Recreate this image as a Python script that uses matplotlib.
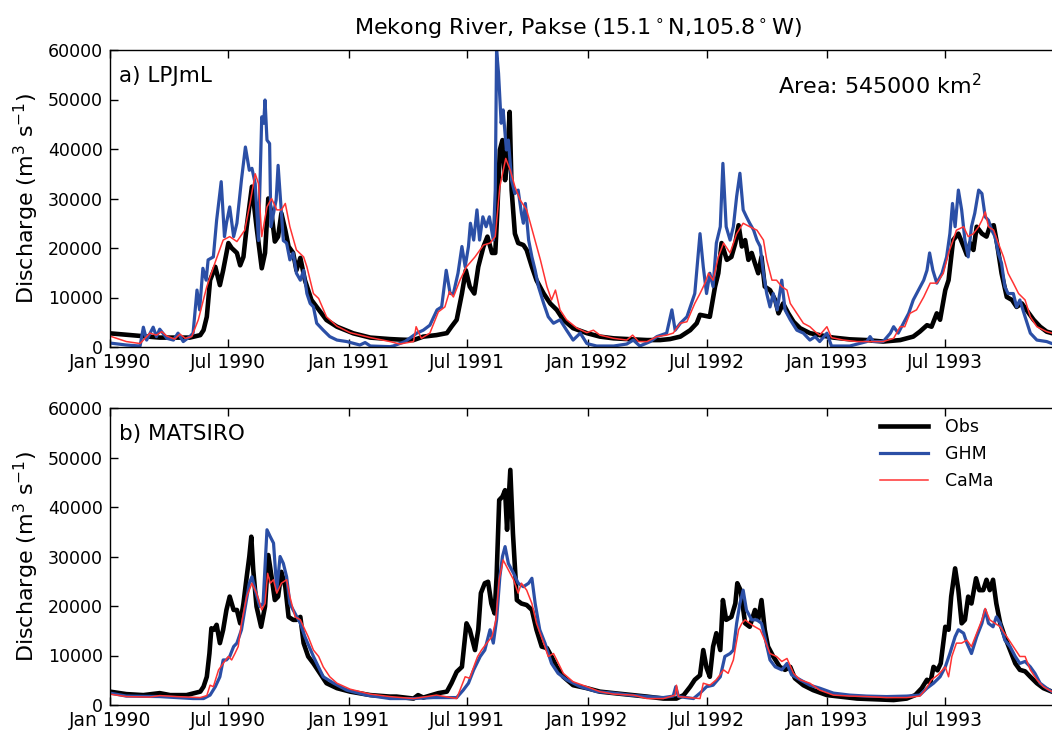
import numpy as np
import matplotlib
matplotlib.use("Agg")
import matplotlib.pyplot as plt
import matplotlib.dates as mdates

# ---------------- data (days since 1990-01-01, discharge m3/s) ----------------
a_obs_day = [0, 76, 122, 138, 143, 148, 153, 161, 168, 173, 181, 186, 194, 199, 204, 209, 217, 224, 232, 237,
             242, 247, 252, 257, 262, 268, 273, 280, 285, 291, 298, 308, 316, 331, 347, 372, 398, 428, 443, 464,
             479, 499, 515, 522, 530, 538, 544, 550, 557, 563, 571, 577, 584, 589, 592, 596, 600, 604, 607, 611,
             614, 619, 624, 632, 637, 645, 652, 663, 673, 683, 693, 708, 729, 749, 770, 800, 821, 841, 856, 872,
             887, 897, 902, 917, 925, 930, 935, 943, 950, 956, 961, 966, 971, 976, 981, 986, 991, 996, 1001, 1009,
             1017, 1022, 1029, 1037, 1045, 1055, 1070, 1085, 1106, 1131, 1157, 1182, 1208, 1228, 1238, 1249, 1256,
             1264, 1269, 1277, 1282, 1289, 1297, 1305, 1310, 1315, 1320, 1325, 1333, 1340, 1345, 1351, 1356, 1363,
             1371, 1379, 1386, 1394, 1401, 1412, 1422, 1432, 1440, 1460]
a_obs_val = [2760, 1900, 1900, 2400, 3400, 6100, 13500, 16200, 12500, 15500, 21000, 20000, 19000, 16500, 18200,
             24300, 32400, 24300, 15900, 19000, 30000, 27000, 21300, 22300, 27000, 23600, 20300, 19000, 15500,
             18000, 13500, 9500, 8100, 5450, 4100, 2760, 1900, 1600, 1500, 1400, 2100, 2400, 2800, 4100, 5500,
             10800, 15500, 12200, 10800, 16200, 20300, 22300, 19000, 19000, 27000, 39800, 41800, 33700, 37100,
             47500, 31700, 22900, 21000, 20600, 19600, 16200, 13500, 10800, 8800, 7500, 5500, 3800, 2800, 2100,
             1750, 1550, 1400, 1400, 1600, 2100, 3400, 4800, 6500, 6100, 12200, 14900, 21000, 17600, 18200, 21000,
             24600, 20300, 21600, 17600, 19000, 16900, 14900, 18200, 12200, 11500, 9500, 6800, 8800, 6800, 5100,
             3800, 2800, 2400, 1900, 1550, 1400, 1100, 1400, 2100, 3100, 4400, 4100, 6800, 5500, 11500, 13500,
             21600, 22900, 20300, 18600, 21000, 19600, 24300, 22900, 22300, 24300, 24600, 21000, 14900, 10100,
             9500, 8100, 8800, 7500, 5500, 4100, 3100, 2800, 2600]

a_ghm_day = [0, 25, 46, 51, 56, 66, 71, 76, 87, 97, 104, 112, 122, 127, 133, 137, 142, 147, 150, 158, 163, 170,
             175, 178, 183, 189, 194, 201, 207, 213, 217, 222, 227, 232, 235, 237, 240, 244, 246, 250, 254, 257,
             261, 265, 270, 275, 280, 285, 291, 296, 301, 306, 311, 316, 326, 336, 347, 362, 382, 390, 398, 428,
             433, 451, 469, 479, 489, 500, 507, 514, 520, 525, 532, 538, 543, 548, 551, 556, 561, 565, 570, 575,
             580, 586, 589, 591, 594, 598, 601, 606, 609, 614, 619, 624, 629, 632, 635, 640, 645, 650, 655, 663,
             670, 678, 688, 698, 708, 719, 729, 744, 770, 790, 800, 810, 826, 836, 851, 859, 864, 872, 882, 894,
             902, 907, 912, 917, 922, 927, 933, 937, 942, 948, 953, 958, 963, 968, 973, 978, 984, 989, 994, 999,
             1004, 1009, 1014, 1020, 1027, 1032, 1040, 1050, 1060, 1070, 1078, 1085, 1096, 1103, 1131, 1157, 1162,
             1167, 1182, 1193, 1198, 1205, 1213, 1221, 1228, 1236, 1244, 1249, 1253, 1258, 1264, 1272, 1279, 1284,
             1288, 1292, 1297, 1302, 1307, 1312, 1317, 1322, 1328, 1333, 1338, 1343, 1348, 1353, 1358, 1363, 1368,
             1373, 1381, 1386, 1391, 1399, 1407, 1417, 1432, 1440, 1460]
a_ghm_val = [800, 400, 200, 4000, 1400, 4000, 2100, 3600, 1750, 1400, 2800, 1100, 2100, 2800, 11500, 7500, 15900,
             13500, 17600, 18200, 25600, 33400, 22300, 25000, 28300, 22300, 25000, 33800, 40400, 35700, 36100,
             33000, 21500, 46500, 45200, 49900, 41800, 41100, 24300, 27000, 29700, 36700, 29000, 21500, 21000,
             17600, 19000, 14900, 13500, 15500, 10800, 8800, 8100, 4800, 3400, 2100, 1400, 1100, 400, 900, 200, 70,
             200, 1100, 2800, 3400, 4400, 7500, 8100, 15500, 10800, 10800, 14900, 20300, 16200, 20300, 25000,
             21600, 27700, 21600, 26300, 24300, 26300, 21600, 31700, 60000, 55300, 45200, 47900, 39800, 41800,
             33700, 31000, 31700, 27000, 25000, 29000, 21600, 18200, 15500, 12200, 8800, 6100, 4800, 5500, 3400,
             1400, 2800, 700, 200, 200, 600, 1400, 200, 1100, 2100, 2800, 7500, 3400, 4800, 6100, 10800, 22900,
             16200, 10800, 14900, 12200, 21000, 24300, 37100, 24300, 21600, 24300, 30400, 35100, 27700, 26300,
             25000, 23600, 21600, 20300, 14900, 10800, 8100, 10800, 7500, 13500, 7500, 5500, 3400, 2800, 1400,
             2100, 1100, 2800, 200, 200, 1100, 2100, 1100, 1100, 2800, 4100, 2800, 4800, 6800, 9500, 11500, 13500,
             15500, 19000, 15500, 12900, 14900, 18200, 22900, 29000, 24300, 31700, 27700, 21600, 18200, 24300,
             27000, 31700, 31000, 26300, 25600, 23600, 22300, 19000, 16900, 12200, 10800, 10800, 8100, 9500, 6100,
             2800, 1400, 1100, 700, 600]

a_cama_day = [0, 25, 46, 61, 71, 79, 87, 99, 107, 115, 125, 135, 148, 161, 173, 183, 194, 206, 214, 222, 227,
              232, 240, 247, 255, 262, 268, 275, 285, 296, 301, 311, 319, 331, 347, 367, 398, 428, 443, 464, 468,
              476, 489, 502, 512, 519, 525, 535, 545, 558, 571, 581, 589, 596, 605, 612, 619, 627, 637, 647, 658,
              668, 675, 681, 688, 698, 714, 729, 739, 749, 770, 790, 799, 808, 821, 836, 851, 861, 872, 882, 894,
              902, 910, 915, 922, 930, 938, 948, 958, 968, 978, 989, 999, 1004, 1012, 1019, 1027, 1035, 1040, 1050,
              1060, 1070, 1078, 1085, 1096, 1103, 1121, 1142, 1182, 1198, 1208, 1215, 1223, 1233, 1244, 1254, 1264,
              1274, 1282, 1289, 1294, 1305, 1312, 1320, 1328, 1333, 1338, 1343, 1351, 1358, 1366, 1373, 1381, 1389,
              1399, 1407, 1417, 1432, 1440, 1460]
a_cama_val = [2200, 1100, 700, 2800, 2400, 3100, 2200, 1600, 2600, 1750, 2100, 5500, 12200, 17200, 21600, 22300,
              21300, 23600, 29000, 35000, 33000, 22300, 28300, 30000, 27700, 27700, 29000, 24300, 19600, 18200,
              16200, 10800, 9800, 6100, 4200, 2900, 1900, 1100, 600, 1100, 4100, 1750, 2800, 7100, 8100, 11200,
              10100, 13500, 16200, 18200, 20600, 21000, 22300, 32400, 38100, 35700, 32400, 29700, 27700, 22900,
              17600, 12200, 9500, 11500, 7500, 5500, 3800, 2900, 3400, 2400, 1750, 1400, 2400, 1100, 1100, 2100,
              2400, 2800, 4800, 5100, 8800, 10800, 13000, 14900, 13500, 18200, 21000, 19000, 22900, 25000, 24300,
              23600, 21600, 17600, 13500, 13500, 12200, 11500, 8800, 6800, 4800, 4100, 3100, 2400, 4100, 1900, 1400,
              1100, 1100, 1750, 4100, 4100, 6800, 7500, 10100, 12900, 12900, 14900, 19000, 21600, 23600, 24300,
              22300, 22900, 24300, 25600, 27300, 24300, 23600, 21000, 18200, 14900, 12900, 10800, 9500, 6100, 4100,
              3100, 2800, 2500]

b_obs_day = [0, 25, 51, 76, 92, 117, 138, 143, 148, 152, 155, 159, 163, 168, 173, 178, 183, 189, 194, 199, 204,
             209, 213, 216, 219, 224, 231, 237, 242, 247, 252, 257, 262, 268, 273, 280, 285, 291, 296, 303, 311,
             321, 331, 347, 367, 398, 428, 438, 464, 471, 479, 502, 515, 522, 530, 538, 545, 550, 558, 563, 567,
             573, 578, 583, 588, 591, 595, 600, 604, 607, 612, 616, 622, 629, 637, 645, 652, 660, 668, 675, 683,
             693, 708, 729, 749, 770, 800, 821, 846, 866, 877, 887, 894, 902, 907, 912, 917, 922, 927, 933, 937,
             942, 950, 956, 959, 964, 971, 978, 986, 991, 996, 1001, 1006, 1014, 1024, 1032, 1040, 1047, 1060, 1075,
             1096, 1116, 1142, 1172, 1198, 1218, 1231, 1241, 1249, 1254, 1259, 1265, 1270, 1277, 1282, 1286, 1292,
             1297, 1302, 1307, 1312, 1317, 1324, 1329, 1335, 1340, 1345, 1350, 1355, 1361, 1368, 1376, 1384, 1391,
             1399, 1407, 1417, 1427, 1440, 1460]
b_obs_val = [2700, 2200, 2000, 2400, 2000, 2000, 2700, 3700, 5700, 10400, 15500, 15200, 16200, 12500, 15200, 19200,
             21900, 19200, 19200, 16500, 20500, 25900, 30000, 34000, 27300, 19900, 15800, 19900, 30300, 25900,
             21200, 21900, 26900, 23900, 17800, 17200, 17200, 17800, 12500, 9800, 8400, 6400, 4400, 3400, 2700,
             2000, 1700, 1700, 1300, 2000, 1500, 2400, 2700, 4400, 6700, 7700, 16500, 15200, 11100, 15200, 22600,
             24600, 24900, 20500, 18500, 25900, 41400, 42100, 43400, 35400, 47500, 34700, 21200, 20500, 20200,
             19200, 15200, 11800, 11500, 9800, 7700, 5700, 4000, 3400, 2700, 2400, 2000, 1700, 1300, 1300, 2000,
             3700, 5100, 6000, 11100, 7500, 5700, 11800, 14500, 11100, 21200, 17200, 17800, 20500, 24600, 23200,
             16500, 15800, 19200, 17200, 21200, 15200, 11800, 9800, 7700, 7100, 7700, 5400, 4000, 3000, 2000, 1700,
             1300, 1150, 1000, 1300, 2000, 3400, 5100, 4400, 7700, 7000, 8400, 15800, 15200, 21900, 27600, 23200,
             16500, 17200, 21900, 20500, 25600, 23200, 23200, 25300, 23200, 25300, 20500, 16500, 13800, 11100,
             8400, 7100, 6800, 5700, 4400, 3400, 2700, 2400]

b_ghm_day = [0, 25, 76, 127, 143, 153, 161, 168, 173, 178, 183, 189, 194, 201, 206, 213, 217, 222, 229, 234, 240,
             245, 250, 255, 260, 265, 270, 275, 280, 291, 298, 311, 326, 342, 362, 392, 428, 464, 494, 530, 540,
             548, 556, 566, 573, 581, 586, 591, 596, 600, 604, 609, 617, 624, 632, 640, 645, 650, 657, 665, 675,
             685, 698, 719, 744, 770, 795, 821, 846, 861, 865, 869, 892, 902, 912, 922, 933, 940, 948, 953, 958,
             963, 968, 973, 981, 989, 996, 1001, 1009, 1017, 1027, 1035, 1042, 1055, 1070, 1085, 1106, 1131, 1157,
             1187, 1218, 1238, 1249, 1259, 1269, 1277, 1284, 1292, 1297, 1305, 1310, 1317, 1325, 1333, 1338, 1343,
             1350, 1355, 1361, 1368, 1376, 1384, 1391, 1399, 1407, 1414, 1422, 1432, 1440, 1460]
b_ghm_val = [2400, 1800, 1700, 1300, 1300, 2000, 3700, 5700, 9100, 9100, 9800, 11800, 12500, 15200, 19200, 24600,
             25900, 23200, 19900, 20500, 35400, 34000, 32700, 23200, 30000, 28600, 25900, 20500, 19200, 16500,
             13800, 9800, 5700, 4400, 3000, 2000, 1300, 1300, 1500, 1500, 3000, 4400, 7100, 9800, 11100, 15200,
             12500, 17200, 25900, 30000, 32000, 28600, 26600, 24600, 23900, 24600, 25600, 20500, 15200, 12500,
             8400, 6400, 5100, 3700, 2700, 2400, 2000, 1700, 1500, 1800, 3700, 1700, 1300, 2400, 3700, 4000, 5700,
             9800, 10400, 11100, 16500, 20500, 23200, 19200, 17200, 17200, 16500, 13800, 9100, 7700, 7100, 8400,
             6100, 5100, 4000, 3400, 2400, 2000, 1800, 1700, 1800, 2000, 3400, 4400, 5700, 7700, 10400, 13800,
             15200, 14500, 12500, 10400, 13800, 16500, 19200, 16500, 15800, 17800, 16500, 13100, 11800, 9800, 8400,
             8800, 7700, 6400, 4400, 3400, 2700, 2500]

b_cama_day = [0, 25, 61, 76, 102, 138, 148, 153, 158, 166, 173, 181, 186, 191, 196, 201, 209, 217, 224, 232, 237,
              241, 245, 250, 255, 262, 270, 275, 283, 291, 296, 303, 311, 319, 326, 336, 347, 367, 398, 428, 464,
              499, 530, 535, 543, 550, 558, 562, 568, 576, 584, 590, 595, 601, 609, 617, 624, 629, 637, 645, 652,
              663, 670, 678, 683, 693, 708, 729, 749, 770, 800, 821, 846, 864, 866, 869, 902, 907, 917, 927, 938,
              945, 953, 961, 966, 971, 978, 986, 994, 1001, 1009, 1019, 1027, 1035, 1045, 1055, 1070, 1085, 1106,
              1131, 1157, 1187, 1218, 1238, 1246, 1256, 1266, 1277, 1282, 1287, 1294, 1302, 1310, 1317, 1325, 1333,
              1338, 1345, 1353, 1361, 1371, 1381, 1391, 1399, 1407, 1417, 1427, 1440, 1460]
b_cama_val = [2200, 1700, 1600, 1900, 1700, 1500, 1900, 4000, 3700, 7100, 8400, 9800, 9100, 10400, 11800, 16500,
              21900, 24600, 22600, 19200, 20500, 26600, 24600, 25300, 22600, 24600, 25300, 21900, 17800, 17200,
              15800, 13800, 11100, 9800, 7700, 5700, 4400, 3200, 2200, 1700, 1300, 2000, 1300, 3000, 5700, 5400,
              8400, 9800, 11100, 12500, 13800, 17200, 25300, 29300, 27300, 25300, 22600, 24600, 23200, 20500, 16500,
              12500, 9800, 10400, 9100, 6400, 4700, 3700, 2700, 2200, 2000, 1300, 1300, 2000, 4000, 1700, 1300,
              4400, 4000, 5100, 7100, 6400, 9100, 15200, 16500, 17200, 16500, 15800, 15200, 13100, 10400, 9800,
              8800, 9400, 6400, 5100, 4400, 3000, 2000, 1800, 1700, 1500, 1500, 1800, 3000, 5100, 6100, 7700, 5700,
              9800, 12500, 12500, 13100, 11800, 14500, 17200, 19500, 17200, 16500, 15800, 13800, 11800, 9800, 9800,
              7100, 5100, 3700, 2700, 2400]

series_names = ["Obs", "GHM", "CaMa"]
panel_titles = ["a) LPJmL", "b) MATSIRO"]
title_text = "Mekong River, Pakse (15.1$^\\circ$N,105.8$^\\circ$W)"
area_text = "Area: 545000 km$^2$"
yticks = [0, 10000, 20000, 30000, 40000, 50000, 60000]

# ---------------- styling ----------------
colors = {"Obs": "#000000", "GHM": "#2b4fa6", "CaMa": "#ff3333"}
widths = {"Obs": 3.3, "GHM": 2.3, "CaMa": 1.1}

start = np.datetime64("1990-01-01")


def to_dates(days):
    return start + np.array(days, dtype="timedelta64[D]")


W, H = 1052, 731
fig = plt.figure(figsize=(W / 100, H / 100), dpi=100)
plt.rcParams["font.family"] = ["DejaVu Sans"]
plt.rcParams["mathtext.fontset"] = "dejavusans"

left_px, right_px = 110, 1065.0
axes_px = [(50, 347), (408, 705)]
panels = [
    ((a_obs_day, a_obs_val), (a_ghm_day, a_ghm_val), (a_cama_day, a_cama_val)),
    ((b_obs_day, b_obs_val), (b_ghm_day, b_ghm_val), (b_cama_day, b_cama_val)),
]

axes = []
for i, (top, bot) in enumerate(axes_px):
    ax = fig.add_axes([left_px / W, 1 - bot / H, (right_px - left_px) / W, (bot - top) / H])
    axes.append(ax)
    for name, (d, v) in zip(series_names, panels[i]):
        ax.plot(to_dates(d), v, color=colors[name], lw=widths[name], label=name,
                solid_joinstyle="round")
    ax.set_xlim(np.datetime64("1990-01-01"), np.datetime64("1993-12-31"))
    ax.set_ylim(0, 60000)
    ax.set_yticks(yticks)
    ax.xaxis.set_major_locator(mdates.MonthLocator(bymonth=[1, 7]))
    ax.xaxis.set_major_formatter(mdates.DateFormatter("%b %Y"))
    ax.tick_params(axis="both", direction="in", length=6, width=1, top=True, right=True)
    ax.tick_params(axis="x", labelsize=13.5, pad=4.5)
    ax.tick_params(axis="y", labelsize=12.5, pad=5)
    for s in ax.spines.values():
        s.set_linewidth(1.0)
    ax.text((119 - left_px) / (right_px - left_px), 0.893, panel_titles[i], transform=ax.transAxes,
            fontsize=15.5, va="baseline", ha="left")
    fig.text(26 / W, 1 - (top + bot) / 2 / H, "Discharge (m$^3$ s$^{-1}$)", rotation=90,
             fontsize=16, ha="center", va="center")

axes[0].text((778 - left_px) / (right_px - left_px), 0.852, area_text, transform=axes[0].transAxes,
             fontsize=16, va="baseline", ha="left")

fig.text(578 / W, 1 - 29 / H, title_text, fontsize=16, ha="center", va="center")

leg = axes[1].legend(loc="upper left", bbox_to_anchor=(880 / W, 1 - 418 / H),
                     bbox_transform=fig.transFigure, frameon=False, fontsize=12.5,
                     handlelength=2.75, handletextpad=1.0, labelspacing=0.52, borderpad=0,
                     borderaxespad=0)

fig.savefig("out.png", dpi=100)
